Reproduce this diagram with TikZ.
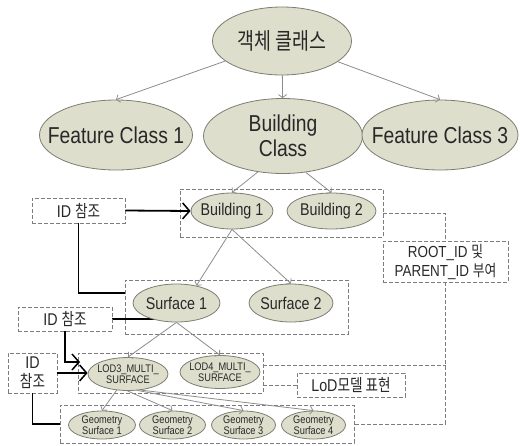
\documentclass[tikz,border=0pt]{standalone}
\usepackage{fontspec}
\setmainfont{Liberation Sans}[FakeStretch=0.84]
\newfontfamily\kr{Noto Sans CJK KR}[FakeStretch=0.8]
\usetikzlibrary{shapes.geometric,arrows.meta}
\definecolor{ellf}{RGB}{221,222,204}
\definecolor{ellc}{RGB}{125,125,112}
\definecolor{dashc}{RGB}{125,125,125}
\definecolor{connc}{RGB}{140,140,140}
\definecolor{txt}{RGB}{40,40,40}
\pgfdeclarelayer{bg}
\pgfsetlayers{bg,main}
\tikzset{
  ell/.style={ellipse, draw=ellc, line width=0.8pt, fill=ellf, inner sep=-45pt, align=center, text=txt},
  big/.style={font=\fontsize{23}{25}\selectfont},
  mid/.style={font=\fontsize{17}{19}\selectfont},
  small/.style={font=\fontsize{11}{11.5}\selectfont},
  tiny/.style={font=\fontsize{11}{11}\selectfont},
  dbox/.style={draw=dashc, dash pattern=on 4pt off 2pt, line width=0.9pt, inner sep=0pt, align=center, text=txt},
  conn/.style={draw=connc, line width=0.8pt, -{Straight Barb[length=3pt,width=8pt]}},
  dconn/.style={draw=dashc, dash pattern=on 4pt off 2pt, line width=0.9pt},
  idline/.style={draw=black, line width=1.8pt},
  idarrow/.style={idline, -{Straight Barb[length=7pt,width=16pt,line width=1.5pt]}}
}
\begin{document}
\begin{tikzpicture}[x=1pt,y=-1pt]
\useasboundingbox (0,0) rectangle (520,445);
% top level
\node[ell,big,minimum width=139pt,minimum height=68pt] (top) at (282,41) {\kr 객체 클래스};
\node[ell,big,minimum width=153pt,minimum height=70pt] (fc1) at (116,135) {Feature Class 1};
\node[ell,big,minimum width=159pt,minimum height=75pt] (bc) at (283,136) {Building\\Class};
\node[ell,big,minimum width=156pt,minimum height=70pt] (fc3) at (440,135) {Feature Class 3};
% dashed boxes
\node[dbox,minimum width=203pt,minimum height=48pt] (bbox) at (281.5,213) {};
\node[dbox,minimum width=223pt,minimum height=54pt] (sbox) at (236.5,307) {};
\node[dbox,minimum width=185pt,minimum height=40pt] (lbox) at (170.5,373) {};
\node[dbox,minimum width=294pt,minimum height=38pt] (gbox) at (207,424) {};
\node[dbox,mid,minimum width=93pt,minimum height=25pt] (id1) at (78.5,210.5) {ID {\kr 참조}};
\node[dbox,mid,minimum width=94pt,minimum height=24pt] (id2) at (65,319) {ID {\kr 참조}};
\node[dbox,mid,minimum width=49pt,minimum height=40pt] (id3) at (32.5,373) {ID\\{\kr 참조}};
\node[dbox,font=\fontsize{16}{19}\selectfont,minimum width=125pt,minimum height=41pt] (root) at (445.5,261.5) {ROOT\_ID {\kr 및}\\PARENT\_ID {\kr 부여}};
\node[dbox,mid,minimum width=108pt,minimum height=24pt] (lodl) at (351,385) {LoD{\kr 모델 표현}};
% ellipses
\node[ell,mid,minimum width=82pt,minimum height=36pt] (b1) at (232,211) {Building 1};
\node[ell,mid,minimum width=89pt,minimum height=36pt] (b2) at (331.5,211) {Building 2};
\node[ell,mid,minimum width=87pt,minimum height=38pt] (s1) at (176.5,303) {Surface 1};
\node[ell,mid,minimum width=84pt,minimum height=38pt] (s2) at (291,303) {Surface 2};
\node[ell,small,minimum width=80pt,minimum height=33pt] (l3) at (128,374) {LOD3\_MULTI\_\\SURFACE};
\node[ell,small,minimum width=80pt,minimum height=33pt] (l4) at (220,372) {LOD4\_MULTI\_\\SURFACE};
\node[ell,tiny,minimum width=67pt,minimum height=28pt] (g1) at (102,425) {Geometry\\Surface 1};
\node[ell,tiny,minimum width=66pt,minimum height=28pt] (g2) at (172.5,425) {Geometry\\Surface 2};
\node[ell,tiny,minimum width=64pt,minimum height=28pt] (g3) at (243.5,425) {Geometry\\Surface 3};
\node[ell,tiny,minimum width=64pt,minimum height=28pt] (g4) at (313.5,425) {Geometry\\Surface 4};
% gray connectors
\draw[conn] (top) -- (fc1.north);
\draw[conn] (top) -- (bc);
\draw[conn] (top) -- (fc3.north);
\draw[conn] (bc.235) -- (b1.north);
\draw[conn] (bc.302) -- (b2.north);
\draw[conn] (b1.south) -- (s1.41);
\draw[conn] (b1.south) -- (s2.north);
\draw[conn] (s1.south) -- (l3.north);
\draw[conn] (s1.south) -- (l4.north);
\draw[conn] (l3.235) -- (g1.north);
\draw[conn] (l3.268) -- (g2.north);
\draw[conn] (l3.300) -- (g3.north);
\draw[conn] (l3.308) -- (g4.north);
% dashed connectors
\draw[dconn] (bbox.east) -| (root.north);
\draw[dconn] (root.south) |- (gbox.east);
\draw[dconn] ([yshift=8pt]lbox.east) coordinate (la) -- (la -| root.south);
\draw[dconn] (lodl.west) -- (lodl.west -| lbox.east);
% ID reference lines
\coordinate (tip2) at (80,362);
\draw[idarrow] (id1.east) -- (b1.west);
\draw[idline] (id1.south) |- ([yshift=14pt]sbox.west);
\begin{pgfonlayer}{bg}
\draw[idline] (id2.east) -- (id2.east -| s1.center);
\end{pgfonlayer}
\draw[idarrow] (id2.south) |- (tip2);
\draw[idarrow] (id3.east) -- (id3.east -| l3.west);
\draw[idline] (id3.south) |- (gbox.west);
\end{tikzpicture}
\end{document}
